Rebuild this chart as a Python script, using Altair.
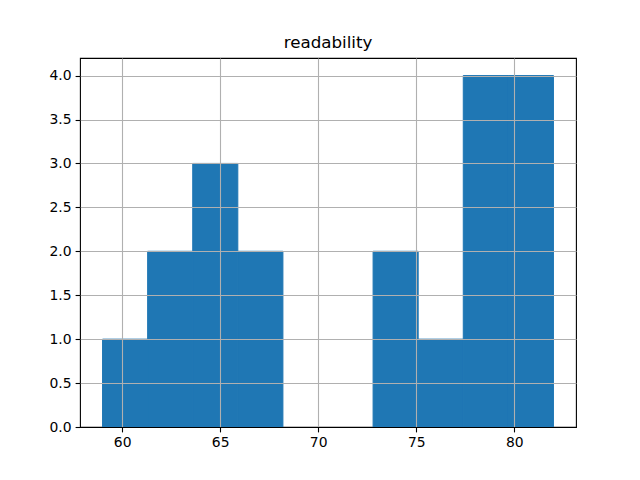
import altair as alt
import pandas as pd

bin_start = [59.0, 61.3, 63.6, 65.9, 68.2, 70.5, 72.8, 75.1, 77.4, 79.7]
bin_end = [61.3, 63.6, 65.9, 68.2, 70.5, 72.8, 75.1, 77.4, 79.7, 82.0]
counts = [1, 2, 3, 2, 0, 0, 2, 1, 4, 4]

x_ticks = [60, 65, 70, 75, 80]
y_ticks = [0, 0.5, 1.0, 1.5, 2.0, 2.5, 3.0, 3.5, 4.0]

df = pd.DataFrame({"start": bin_start, "end": bin_end, "count": counts})

font = "DejaVu Sans"

chart = alt.Chart(df).transform_filter(
    "datum.count > 0"
).mark_rect(color="#1f77b4", stroke="#1f77b4", strokeWidth=1).encode(
    x=alt.X("start:Q", scale=alt.Scale(domain=[57.85, 83.15], nice=False, zero=False),
            axis=alt.Axis(values=x_ticks, title=None, grid=True, zindex=1, format="d",
                          gridColor="#b0b0b0")),
    x2="end:Q",
    y=alt.Y("count:Q", scale=alt.Scale(domain=[0, 4.2], nice=False),
            axis=alt.Axis(values=y_ticks, title=None, grid=True, zindex=1, format=".1f",
                          gridColor=alt.condition("datum.value == 0",
                                                  alt.value("black"),
                                                  alt.value("#b0b0b0")))),
    y2=alt.datum(0),
).properties(
    width=496,
    height=369,
    title=alt.TitleParams("readability", fontSize=16.7, fontWeight="normal", font=font,
                          color="black", offset=6, anchor="middle"),
    autosize=alt.AutoSizeParams(type="none"),
    padding={"left": 72, "top": 50, "right": 56, "bottom": 45},
).configure_view(
    stroke="black", strokeWidth=1.1
).configure_axis(
    gridWidth=1.1, gridOpacity=1,
    domain=False,
    tickColor="black", tickSize=4.9, tickWidth=1.1,
    labelColor="black", labelFont=font, labelFontSize=13.9, labelPadding=4,
)

chart.save("out.html", embed_options={"renderer": "svg", "actions": False})
